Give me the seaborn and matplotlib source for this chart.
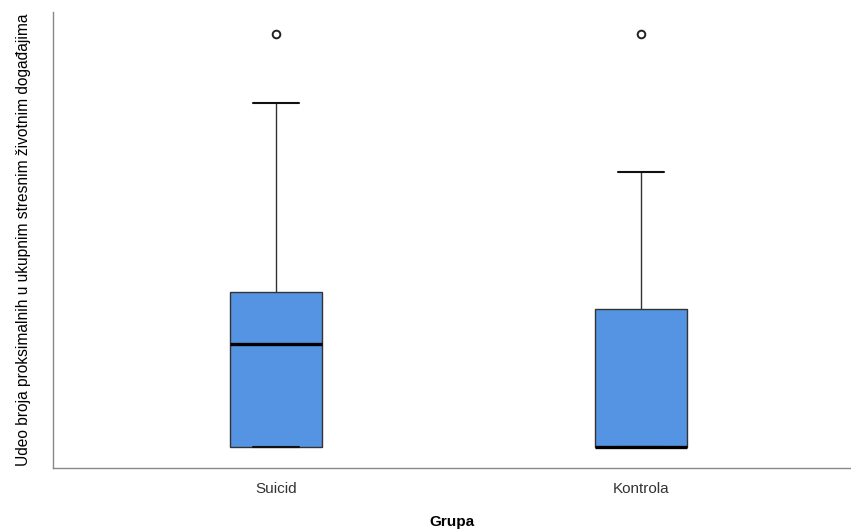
import matplotlib
matplotlib.use("Agg")
import matplotlib.pyplot as plt
import pandas as pd
import seaborn as sns

# Share of proximal events among all stressful life events, per respondent
groups = ["Suicid", "Kontrola"]
suicid_values = [0.0, 0.0, 0.0, 0.0, 0.2, 0.25, 0.25, 0.3, 0.375, 0.375, 0.833, 1.0]
kontrola_values = [0.0, 0.0, 0.0, 0.0, 0.0, 0.0, 0.0, 0.2, 0.333, 0.333, 0.667, 1.0]

df = pd.DataFrame({
    "Grupa": [groups[0]] * len(suicid_values) + [groups[1]] * len(kontrola_values),
    "Udeo": suicid_values + kontrola_values,
})

sns.set_theme(style="white")
plt.rcParams["font.family"] = ["Liberation Sans", "DejaVu Sans"]

fig = plt.figure(figsize=(8.51, 5.30), dpi=100)
ax = fig.add_axes([53 / 851, 62 / 530, 798 / 851, 456 / 530])

edge = "#333333"
sns.boxplot(
    data=df, x="Grupa", y="Udeo", order=groups, ax=ax,
    color="#5594E3", saturation=1, width=0.25, whis=1.5,
    linewidth=1.0, linecolor=edge,
    boxprops=dict(edgecolor=edge, linewidth=1.0),
    whiskerprops=dict(color=edge, linewidth=1.0),
    capprops=dict(color="#111111", linewidth=1.5),
    medianprops=dict(color="black", linewidth=2.4),
    flierprops=dict(marker="o", markersize=5.5, markerfacecolor="white",
                    markeredgecolor="#222222", markeredgewidth=1.4),
)

ax.set_xlim(-0.611, 1.575)
ax.set_ylim(-0.0508, 1.0533)

ax.set_yticks([])
ax.tick_params(axis="x", length=0, pad=10, labelsize=11, labelcolor="#333333")
ax.set_xlabel("Grupa", fontsize=11, fontweight="bold", color="black", labelpad=14)
ax.set_ylabel("Udeo broja proksimalnih u ukupnim stresnim životnim događajima",
              fontsize=11.2, color="black", labelpad=16)

for side in ["top", "right"]:
    ax.spines[side].set_visible(False)
for side in ["left", "bottom"]:
    ax.spines[side].set_color("#888888")
    ax.spines[side].set_linewidth(1.0)

fig.savefig("out.png", dpi=100)
